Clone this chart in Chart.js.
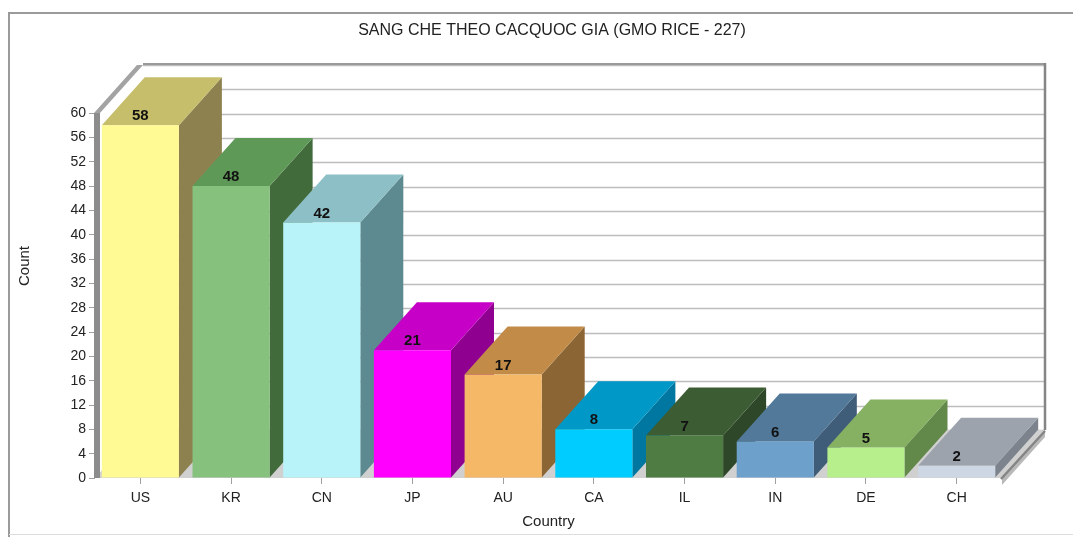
<!DOCTYPE html>
<html>
<head>
<meta charset="utf-8">
<script src="https://cdn.jsdelivr.net/npm/chart.js@4"></script>
<style>
  html, body { margin: 0; padding: 0; background: #ffffff; }
  #wrap { width: 1073px; height: 537px; }
</style>
</head>
<body>
<div id="wrap"><canvas id="chart" width="1073" height="537"></canvas></div>
<script>
// Patent counts per country
const countries = ['US', 'KR', 'CN', 'JP', 'AU', 'CA', 'IL', 'IN', 'DE', 'CH'];
const counts = [58, 48, 42, 21, 17, 8, 7, 6, 5, 2];

// Face colours of each 3D bar: front, top, right side
const frontColors = ['#FFFA93', '#86C27D', '#B9F3FA', '#FF00FF', '#F4B866', '#00CCFF', '#4E7C42', '#6EA0CC', '#B7EF8C', '#CDD6E3'];
const topColors   = ['#C6BE6B', '#5F9958', '#8DBFC6', '#C600C6', '#C28C48', '#0099C7', '#3C5C33', '#52799A', '#86B062', '#9CA3AC'];
const sideColors  = ['#8D8150', '#416B3B', '#5D8A90', '#900090', '#8B6534', '#0077A0', '#2E4728', '#3F5C78', '#63894A', '#7C838C'];

// Value axis
const yMax = 60;
const yStep = 4;

const titleText = 'SANG CHE THEO CACQUOC GIA (GMO RICE - 227)';
const yTitle = 'Count';
const xTitle = 'Country';

const FONT = '"Liberation Sans", Arial, sans-serif';
const DX = 43;   // depth offset to the right
const DY = 48;   // depth offset upwards

function poly(ctx, pts, fill) {
  ctx.beginPath();
  ctx.moveTo(pts[0][0], pts[0][1]);
  for (let i = 1; i < pts.length; i++) ctx.lineTo(pts[i][0], pts[i][1]);
  ctx.closePath();
  ctx.fillStyle = fill;
  ctx.fill();
}

// Walls, floor and the top/side faces of the bars (the library draws the front faces)
const box3d = {
  id: 'box3d',
  beforeDatasetsDraw(chart) {
    const ctx = chart.ctx;
    const ys = chart.scales.y;
    const area = chart.chartArea;
    const L = area.left, R = area.right;
    const y0 = ys.getPixelForValue(0);
    const yTop = ys.getPixelForValue(yMax);
    ctx.save();

    // back wall gridlines
    ctx.strokeStyle = '#bdbdbd';
    ctx.lineWidth = 1.6;
    for (let v = 0; v <= yMax; v += yStep) {
      const y = Math.round(ys.getPixelForValue(v) - DY) + 0.5;
      ctx.beginPath();
      ctx.moveTo(L + 5 + DX, y);
      ctx.lineTo(R + DX, y);
      ctx.stroke();
    }
    // back wall frame
    ctx.strokeStyle = '#9a9a9a';
    ctx.lineWidth = 2;
    ctx.beginPath();
    ctx.moveTo(L + 5 + DX, yTop - DY - 1);
    ctx.lineTo(R + DX, yTop - DY - 1);
    ctx.stroke();
    ctx.strokeStyle = '#858585';
    ctx.lineWidth = 2.5;
    ctx.beginPath();
    ctx.moveTo(R + DX, yTop - DY - 2);
    ctx.lineTo(R + DX, y0 - DY);
    ctx.stroke();

    // floor
    poly(ctx, [[L, y0], [R, y0], [R + DX, y0 - DY], [L + DX, y0 - DY]], '#d0d0d0');
    // floor slab, right edge
    poly(ctx, [[R, y0], [R + DX, y0 - DY], [R + DX, y0 - DY + 7], [R, y0 + 7]], '#b9b9b9');
    ctx.strokeStyle = '#858585';
    ctx.lineWidth = 2.5;
    ctx.beginPath();
    ctx.moveTo(R - 1, y0 + 1);
    ctx.lineTo(R + DX, y0 - DY + 1);
    ctx.stroke();

    // left wall slab
    const wl = L - 1, wr = L + 5;
    poly(ctx, [[wl, yTop], [wr, yTop], [wr + DX, yTop - DY], [wl + DX, yTop - DY]], '#a3a3a3');
    poly(ctx, [[wl, yTop], [wr, yTop], [wr, y0], [wl, y0]], '#8c8c8c');

    // bar top and side faces, left to right
    const meta = chart.getDatasetMeta(0);
    meta.data.forEach((bar, i) => {
      const p = bar.getProps(['x', 'y', 'base', 'width'], true);
      const l = p.x - p.width / 2, r = p.x + p.width / 2, t = p.y, b = p.base;
      poly(ctx, [[r, t], [r + DX, t - DY], [r + DX, b - DY], [r, b]], sideColors[i]);
      poly(ctx, [[l, t], [r, t], [r + DX, t - DY], [l + DX, t - DY]], topColors[i]);
    });
    ctx.restore();
  },
  afterDatasetsDraw(chart) {
    const ctx = chart.ctx;
    const meta = chart.getDatasetMeta(0);
    ctx.save();
    ctx.font = 'bold 15px ' + FONT;
    ctx.fillStyle = '#111111';
    ctx.textAlign = 'center';
    ctx.textBaseline = 'middle';
    meta.data.forEach((bar, i) => {
      const p = bar.getProps(['x', 'y'], true);
      ctx.fillText(String(counts[i]), p.x, p.y - 9);
    });
    ctx.restore();
  },
  afterDraw(chart) {
    const ctx = chart.ctx;
    ctx.save();
    // outer frame
    ctx.strokeStyle = '#9a9a9a';
    ctx.lineWidth = 2;
    ctx.beginPath();
    ctx.moveTo(9, 537);
    ctx.lineTo(9, 13);
    ctx.lineTo(1073, 13);
    ctx.stroke();
    ctx.strokeStyle = '#dddddd';
    ctx.lineWidth = 1;
    ctx.beginPath();
    ctx.moveTo(9, 534.5);
    ctx.lineTo(1073, 534.5);
    ctx.stroke();
    // chart title
    ctx.fillStyle = '#222222';
    ctx.font = '16px ' + FONT;
    ctx.textAlign = 'center';
    ctx.textBaseline = 'middle';
    ctx.fillText(titleText, 552, 31);
    // value axis title
    ctx.font = '15px ' + FONT;
    ctx.translate(25, 266);
    ctx.rotate(-Math.PI / 2);
    ctx.fillText(yTitle, 0, 0);
    ctx.restore();
  }
};

new Chart(document.getElementById('chart'), {
  type: 'bar',
  data: {
    labels: countries,
    datasets: [{
      data: counts,
      backgroundColor: frontColors,
      borderWidth: 0,
      barPercentage: 0.85,
      categoryPercentage: 1.0
    }]
  },
  options: {
    responsive: false,
    animation: false,
    devicePixelRatio: 1,
    layout: { padding: { top: 113, right: 71, bottom: 0, left: 0 } },
    plugins: {
      legend: { display: false },
      title: { display: false },
      tooltip: { enabled: false }
    },
    scales: {
      x: {
        afterFit(s) { s.height = 59; },
        grid: { drawOnChartArea: false, offset: false, tickLength: 6, color: '#a0a0a0' },
        border: { display: false },
        ticks: { color: '#222222', font: { family: FONT, size: 14 }, padding: 6, maxRotation: 0 },
        title: { display: true, text: xTitle, color: '#222222', font: { family: FONT, size: 15 }, padding: { top: 0, bottom: 6 } }
      },
      y: {
        min: 0,
        max: yMax,
        afterFit(s) { s.width = 95; },
        grid: { drawOnChartArea: false, tickLength: 6, color: '#a0a0a0' },
        border: { display: false },
        ticks: { stepSize: yStep, color: '#222222', font: { family: FONT, size: 14 }, padding: 3 }
      }
    }
  },
  plugins: [box3d]
});
</script>
</body>
</html>
